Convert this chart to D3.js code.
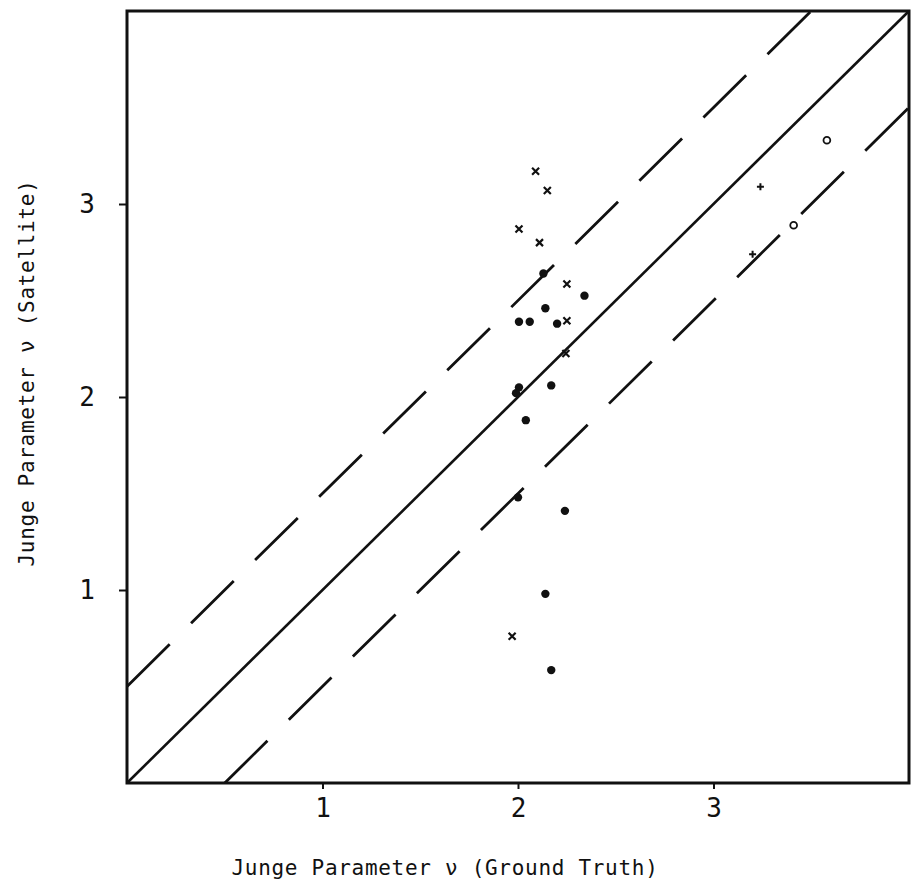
<!DOCTYPE html>
<html>
<head>
<meta charset="utf-8">
<script src="https://cdn.jsdelivr.net/npm/d3@7"></script>
<style>
  body { margin: 0; background: #fff; }
  text { font-family: "DejaVu Sans Mono", monospace; fill: #111; }
</style>
</head>
<body>
<svg id="chart"></svg>
<script>
// data: ground truth (x) vs satellite (y)
var dotX    = [2.13, 2.34, 2.14, 2.005, 2.06, 2.20, 2.005, 1.99, 2.17, 2.04, 2.00, 2.24, 2.14, 2.17];
var dotY    = [2.64, 2.525, 2.46, 2.39, 2.39, 2.38, 2.05, 2.02, 2.06, 1.88, 1.48, 1.41, 0.98, 0.585];
var crossX  = [2.09, 2.15, 2.005, 2.11, 2.25, 2.25, 2.245, 1.97];
var crossY  = [3.17, 3.07, 2.87, 2.80, 2.585, 2.395, 2.225, 0.76];
var plusX   = [3.24, 3.20];
var plusY   = [3.09, 2.74];
var ringX   = [3.58, 3.41];
var ringY   = [3.33, 2.89];
var xTicks  = [1, 2, 3];
var yTicks  = [1, 2, 3];
var band    = 0.5;   // offset of dashed lines from 1:1 line

// set the dimensions and margins of the graph
var margin = {top: 11, right: 5, bottom: 108, left: 127},
    width = 914,
    height = 891;

var x = d3.scaleLinear().domain([0, 4]).range([margin.left, width - margin.right]);
var y = d3.scaleLinear().domain([0, 4]).range([height - margin.bottom, margin.top]);

var svg = d3.select("#chart")
    .attr("width", width)
    .attr("height", height);

var line = d3.line()
    .x(function(d) { return x(d[0]); })
    .y(function(d) { return y(d[1]); });

// 1:1 line and the +/- band
svg.append("path")
    .attr("d", line([[0, 0], [4, 4]]))
    .attr("fill", "none").attr("stroke", "#111").attr("stroke-width", 2.6);

svg.append("path")
    .attr("d", line([[0, band], [4 - band, 4]]))
    .attr("fill", "none").attr("stroke", "#111").attr("stroke-width", 2.8)
    .attr("stroke-dasharray", "60,30");

svg.append("path")
    .attr("d", line([[band, 0], [4, 4 - band]]))
    .attr("fill", "none").attr("stroke", "#111").attr("stroke-width", 2.8)
    .attr("stroke-dasharray", "60,30");

// frame
svg.append("rect")
    .attr("x", x(0)).attr("y", y(4))
    .attr("width", x(4) - x(0)).attr("height", y(0) - y(4))
    .attr("fill", "none").attr("stroke", "#111").attr("stroke-width", 3);

// add the X Axis
var gx = svg.append("g")
    .attr("transform", "translate(0," + y(0) + ")")
    .call(d3.axisBottom(x).tickValues(xTicks).tickSize(6).tickPadding(10)
      .tickFormat(d3.format("d")));
gx.select(".domain").remove();
gx.selectAll("line").attr("stroke", "#111").attr("stroke-width", 2);
gx.selectAll("text").attr("font-size", 26).attr("font-family", "DejaVu Sans Mono");

// add the Y Axis
var gy = svg.append("g")
    .attr("transform", "translate(" + x(0) + ",0)")
    .call(d3.axisLeft(y).tickValues(yTicks).tickSize(8).tickPadding(24)
      .tickFormat(d3.format("d")));
gy.select(".domain").remove();
gy.selectAll("line").attr("stroke", "#111").attr("stroke-width", 2);
gy.selectAll("text").attr("font-size", 26).attr("font-family", "DejaVu Sans Mono");

// markers
var zip = function(a, b) { return a.map(function(v, i) { return [v, b[i]]; }); };

svg.append("g").selectAll("circle")
    .data(zip(dotX, dotY))
  .enter().append("circle")
    .attr("cx", function(d) { return x(d[0]); })
    .attr("cy", function(d) { return y(d[1]); })
    .attr("r", 4.2)
    .attr("fill", "#111");

svg.append("g").selectAll("circle")
    .data(zip(ringX, ringY))
  .enter().append("circle")
    .attr("cx", function(d) { return x(d[0]); })
    .attr("cy", function(d) { return y(d[1]); })
    .attr("r", 3.4)
    .attr("fill", "none").attr("stroke", "#111").attr("stroke-width", 1.8);

svg.append("g").selectAll("path")
    .data(zip(crossX, crossY))
  .enter().append("path")
    .attr("d", function(d) {
      var cx = x(d[0]), cy = y(d[1]), s = 3.5;
      return "M" + (cx - s) + "," + (cy - s) + "L" + (cx + s) + "," + (cy + s) +
             "M" + (cx + s) + "," + (cy - s) + "L" + (cx - s) + "," + (cy + s);
    })
    .attr("stroke", "#111").attr("stroke-width", 2.2);

svg.append("g").selectAll("path")
    .data(zip(plusX, plusY))
  .enter().append("path")
    .attr("d", function(d) {
      var cx = x(d[0]), cy = y(d[1]), s = 3.5;
      return "M" + (cx - s) + "," + cy + "L" + (cx + s) + "," + cy +
             "M" + cx + "," + (cy - s) + "L" + cx + "," + (cy + s);
    })
    .attr("stroke", "#111").attr("stroke-width", 2);

// axis titles
svg.append("text")
    .attr("x", 445).attr("y", 875)
    .attr("text-anchor", "middle")
    .attr("font-size", 21).attr("letter-spacing", 0.7)
    .text("Junge Parameter \u03bd (Ground Truth)");

svg.append("text")
    .attr("transform", "translate(34,373) rotate(-90)")
    .attr("text-anchor", "middle")
    .attr("font-size", 21).attr("letter-spacing", 0.7)
    .text("Junge Parameter \u03bd (Satellite)");
</script>
</body>
</html>
